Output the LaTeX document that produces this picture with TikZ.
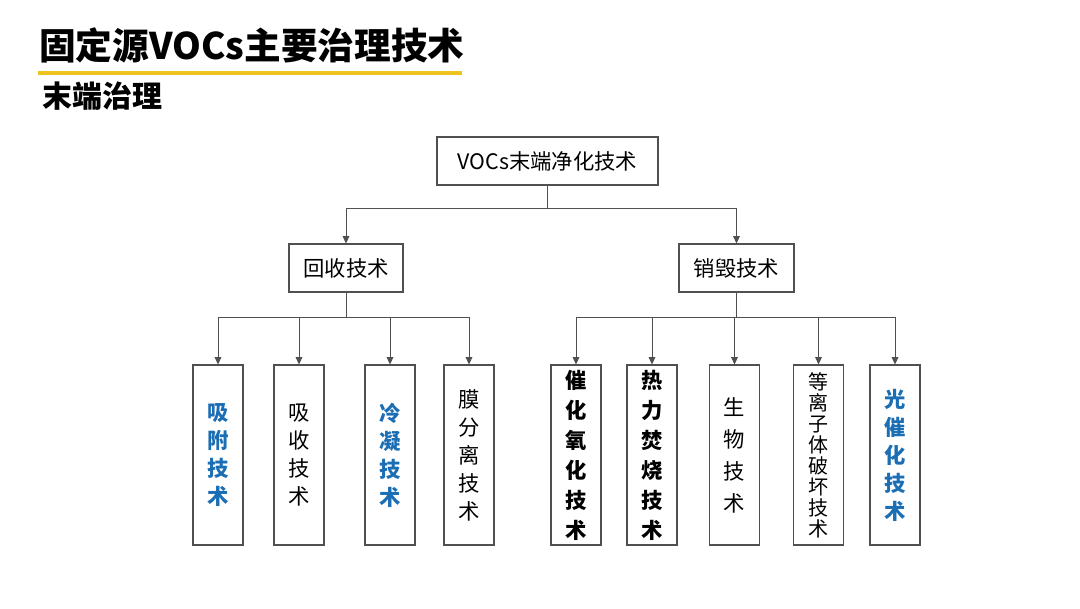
\documentclass[tikz,border=0pt]{standalone}
\usepackage{fontspec}
\setmainfont{Noto Sans CJK SC}
\usepackage{xcolor}
\usetikzlibrary{arrows.meta}
\definecolor{linegray}{HTML}{505050}
\definecolor{techblue}{HTML}{1C6EB4}
\definecolor{baryellow}{HTML}{EFC31F}

\begin{document}
\begin{tikzpicture}[x=0.75pt, y=-0.75pt,
  box/.style={draw=linegray, line width=0.8pt, inner sep=0pt, font=\fontsize{16}{21}\selectfont},
  leaf/.style={box, minimum width=37.5pt, minimum height=135pt, align=center},
  hot/.style={font=\fontsize{16}{21}\selectfont\bfseries},
  arr/.style={-{Triangle[length=5.5pt,width=5pt]}, draw=linegray, line width=0.7pt}]
  \useasboundingbox (0,0) rectangle (1080,608);
  \node[anchor=west, inner sep=0pt, font=\fontsize{27.5}{28}\selectfont\bfseries] (title) at (39,45) {固定源VOCs主要治理技术};
  \draw[baryellow, line width=3pt] (38,72.5) -- (462,72.5);
  \node[anchor=west, inner sep=0pt, font=\fontsize{22.5}{23}\selectfont\bfseries] (sub) at (42,96) {末端治理};

  \node[box, minimum width=165.75pt, minimum height=36pt] (top) at (547.5,161) {VOCs末端净化技术};
  \node[box, minimum width=85.5pt, minimum height=36pt] (rec) at (346,268) {回收技术};
  \node[box, minimum width=86.25pt, minimum height=36pt] (dest) at (736.5,268) {销毁技术};

  \node[leaf, hot, text=techblue] (ads) at (218,455) {吸\\附\\技\\术};
  \node[leaf] (abs) at (299,455) {吸\\收\\技\\术};
  \node[leaf, hot, text=techblue] (cond) at (390,455) {冷\\凝\\技\\术};
  \node[leaf] (memb) at (469,455) {膜\\分\\离\\技\\术};
  \node[leaf, hot, font=\fontsize{16}{22.5}\selectfont\bfseries] (cato) at (576,455) {催\\化\\氧\\化\\技\\术};
  \node[leaf, hot, font=\fontsize{16}{22.5}\selectfont\bfseries] (therm) at (652,455) {热\\力\\焚\\烧\\技\\术};
  \node[leaf, font=\fontsize{16}{24}\selectfont] (bio) at (734.5,455) {生\\物\\技\\术};
  \node[leaf, font=\fontsize{15}{15.75}\selectfont] (plasma) at (818.5,455) {等\\离\\子\\体\\破\\坏\\技\\术};
  \node[leaf, hot, text=techblue] (photo) at (895,455) {光\\催\\化\\技\\术};

  \draw[arr] (top.south) -- ++(0,23) -| (rec.north);
  \draw[arr] (top.south) -- ++(0,23) -| (dest.north);
  \foreach \n in {ads,abs,cond,memb}
    \draw[arr] (rec.south) -- ++(0,25) -| (\n.north);
  \foreach \n in {cato,therm,bio,plasma,photo}
    \draw[arr] (dest.south) -- ++(0,25) -| (\n.north);
\end{tikzpicture}
\end{document}
